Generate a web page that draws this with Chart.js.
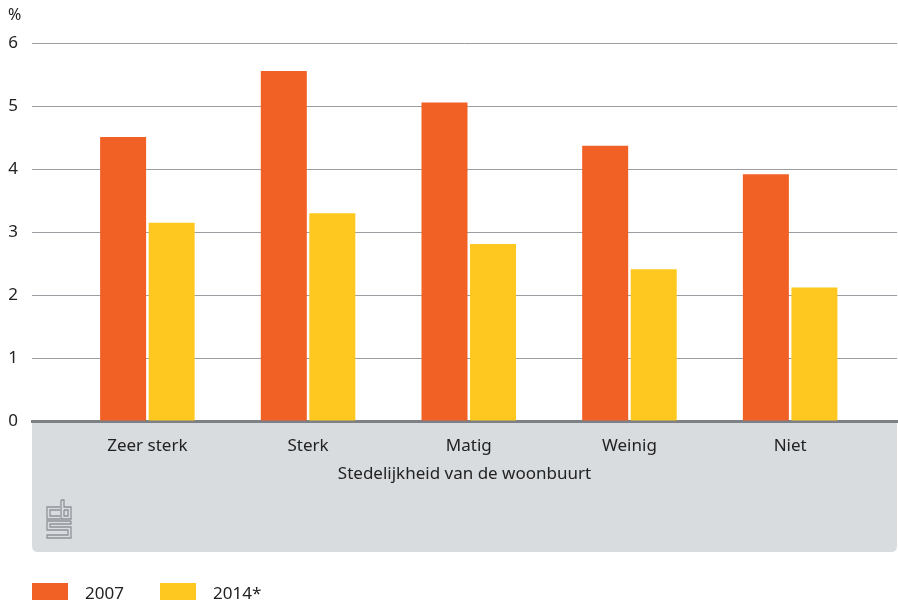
<!DOCTYPE html>
<html>
<head>
<meta charset="utf-8">
<script src="https://cdn.jsdelivr.net/npm/chart.js@4"></script>
<style>
  html, body { margin: 0; padding: 0; background: #fff; }
</style>
</head>
<body>
<canvas id="chart" width="898" height="603"></canvas>
<script>
// waarden
const categories = ["Zeer sterk", "Sterk", "Matig", "Weinig", "Niet"];
const values2007 = [4.51, 5.56, 5.06, 4.37, 3.92];
const values2014 = [3.15, 3.3, 2.81, 2.41, 2.12];
const seriesLabels = ["2007", "2014*"];
const yTicks = [0, 1, 2, 3, 4, 5, 6];
const unitLabel = "%";
const axisTitle = "Stedelijkheid van de woonbuurt";

const orange = "#f16024";
const yellow = "#fec820";
const textColor = "#222222";
const fontFamily = "'Noto Sans', sans-serif";

// grijs vlak onder de x-as
const panelPlugin = {
  id: "panel",
  beforeDraw(chart) {
    const ctx = chart.ctx;
    const area = chart.chartArea;
    const bottom = chart.scales.x.bottom;
    const r = 6;
    ctx.save();
    ctx.fillStyle = "#d9dcdf";
    ctx.beginPath();
    ctx.moveTo(area.left, area.bottom);
    ctx.lineTo(area.right, area.bottom);
    ctx.lineTo(area.right, bottom - r);
    ctx.quadraticCurveTo(area.right, bottom, area.right - r, bottom);
    ctx.lineTo(area.left + r, bottom);
    ctx.quadraticCurveTo(area.left, bottom, area.left, bottom - r);
    ctx.closePath();
    ctx.fill();
    ctx.restore();
  },
};

// cbs-logo, ruwe benadering
const logoPlugin = {
  id: "logo",
  afterDraw(chart) {
    const ctx = chart.ctx;
    const paths = [
      [[60, 507], [47, 507], [47, 519], [60, 519]],
      [[60, 510], [50, 510], [50, 516], [60, 516]],
      [[61, 500], [64, 500], [64, 507], [71, 507], [71, 519], [61, 519], [61, 500]],
      [[64, 510], [68, 510], [68, 516], [64, 516], [64, 510]],
      [[71, 521], [47, 521], [47, 530], [68, 530], [68, 535], [47, 535], [47, 538], [71, 538], [71, 527], [50, 527], [50, 524], [71, 524], [71, 521]],
    ];
    ctx.save();
    ctx.strokeStyle = "#8e9196";
    ctx.lineWidth = 1.3;
    paths.forEach((p) => {
      ctx.beginPath();
      p.forEach(([x, y], i) => (i ? ctx.lineTo(x, y) : ctx.moveTo(x, y)));
      ctx.stroke();
    });
    ctx.restore();
  },
};

// legenda onderaan
const legendPlugin = {
  id: "bottomLegend",
  afterDraw(chart) {
    const ctx = chart.ctx;
    const xs = [32, 160];
    ctx.save();
    ctx.font = "17px " + fontFamily;
    ctx.textBaseline = "middle";
    chart.data.datasets.forEach((ds, i) => {
      ctx.fillStyle = ds.backgroundColor;
      ctx.fillRect(xs[i], 583, 36, 17);
      ctx.fillStyle = textColor;
      ctx.fillText(ds.label, xs[i] + 53, 594);
    });
    ctx.restore();
  },
};

const toPoints = (values) => values.map((v, i) => ({ x: i, y: v }));

new Chart(document.getElementById("chart"), {
  type: "bar",
  data: {
    datasets: [
      { label: seriesLabels[0], data: toPoints(values2007), backgroundColor: orange },
      { label: seriesLabels[1], data: toPoints(values2014), backgroundColor: yellow },
    ],
  },
  options: {
    responsive: false,
    animation: false,
    categoryPercentage: 0.604,
    barPercentage: 0.948,
    layout: { padding: { left: 8, right: 1, top: 0, bottom: 51 } },
    plugins: {
      legend: { display: false },
      tooltip: { enabled: false },
      title: {
        display: true,
        text: unitLabel,
        align: "start",
        color: textColor,
        font: { family: fontFamily, size: 16, weight: "normal" },
        padding: { top: 6, bottom: 18 },
      },
    },
    scales: {
      x: {
        type: "linear",
        offset: false,
        bounds: "data",
        min: -0.718,
        max: 4.665,
        afterFit: (scale) => { scale.height = 131; },
        afterBuildTicks: (scale) => {
          scale.ticks = categories.map((c, i) => ({ value: i }));
        },
        grid: { display: false, drawTicks: false, offset: false },
        border: { display: true, color: "#7d8085", width: 3 },
        ticks: {
          autoSkip: false,
          maxRotation: 0,
          padding: 15,
          color: textColor,
          font: { family: fontFamily, size: 17 },
          callback: (v) => categories[v] ?? "",
        },
        title: {
          display: true,
          text: axisTitle,
          color: textColor,
          font: { family: fontFamily, size: 17 },
          padding: { top: 0, bottom: 68 },
        },
      },
      y: {
        min: 0,
        max: 6,
        afterFit: (scale) => { scale.width = 24; },
        afterBuildTicks: (scale) => {
          scale.ticks = yTicks.map((v) => ({ value: v }));
        },
        grid: { color: "#9a9da2", lineWidth: 1, drawTicks: false },
        border: { display: false },
        ticks: {
          padding: 14,
          color: textColor,
          font: { family: fontFamily, size: 17 },
        },
      },
    },
  },
  plugins: [panelPlugin, logoPlugin, legendPlugin],
});
</script>
</body>
</html>
